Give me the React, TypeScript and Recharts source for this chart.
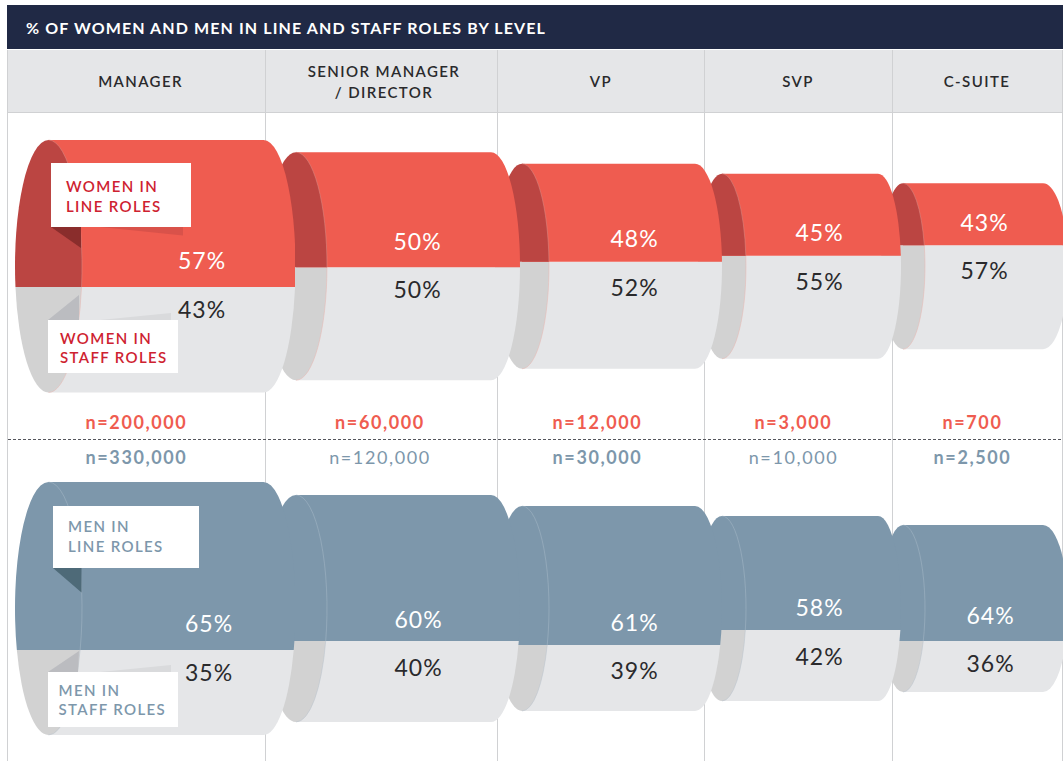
import { Bar, BarChart, LabelList, XAxis, YAxis } from "recharts";

const levels = ["Manager", "Senior Manager / Director", "VP", "SVP", "C-Suite"];

// percentages printed on the cylinders
const womenLinePct = [57, 50, 48, 45, 43];
const womenStaffPct = [43, 50, 52, 55, 57];
const menLinePct = [65, 60, 61, 58, 64];
const menStaffPct = [35, 40, 39, 42, 36];

// drawn height of each part (not strictly proportional to the %)
const womenLineSize = [147, 115, 98, 82, 62];
const womenStaffSize = [105.5, 113, 107, 103, 104];
const menLineSize = [168, 146, 139, 114, 116];
const menStaffSize = [85, 81, 66, 71, 51];

const womenN = ["n=200,000", "n=60,000", "n=12,000", "n=3,000", "n=700"];
const menN = ["n=330,000", "n=120,000", "n=30,000", "n=10,000", "n=2,500"];
const menNBold = [true, false, true, false, true];

// column layout
const gridX = [7.5, 265.5, 497.5, 704.5, 892.5, 1062.5];
const headerX = [140.5, 384, 601, 798, 977];
const nX = [136.5, 380, 597.5, 793.5, 972.5];
const bodyLeft = [48, 296, 522, 722, 903];
const bodyRight = [263, 491, 695, 878, 1043];
const rxLeft = [33.5, 31, 27, 24, 22];
const rxRight = [32, 29, 27, 23, 25];
const womenPctX = [201.5, 417.5, 634.5, 819.5, 984.5];
const menPctX = [208.5, 418.5, 634.5, 819.5, 990.5];
const womenLineDy = [-27, -26, -24, -24, -23];
const womenStaffDy = [22, 22, 25, 25, 25];
const menLineDy = [-27, -22, -23, -23, -26];
const menStaffDy = [22, 26, 25, 26, 22];

const FONT = "Lato, 'Open Sans', sans-serif";
const CHART_H = 270;
const RED = "#EF5C50";
const RED_SIDE = "#BB4542";
const BLUE = "#7D97AB";
const GREY = "#E5E6E8";
const GREY_SIDE = "#D2D2D2";
const LINE = "#D0D1D3";
const INK = "#2A2A2C";
const CALLOUT_RED = "#CE2230";

function CylinderPart(props: any) {
  const { x, y, width, height, payload, part, fill, side, edge, rxL, rxR } = props;
  const isLine = part === "line";
  const k = height / (isLine ? payload.line : payload.staff);
  const ry = (k * (payload.line + payload.staff)) / 2;
  const cy = isLine ? y + ry : y + height - ry;
  const outer = isLine ? y : y + height;
  const inner = isLine ? y + height : y;
  const off = (r: number) => r * Math.sqrt(Math.max(0, 1 - ((inner - cy) / ry) ** 2));
  const right = x + width;
  const sBody = isLine ? 1 : 0;
  const sSide = isLine ? 0 : 1;
  const dL = off(rxL);
  return (
    <g>
      <path
        d={`M${x},${outer} L${right},${outer} A${rxR},${ry} 0 0 ${sBody} ${right + off(rxR)},${inner} L${x},${inner} Z`}
        fill={fill}
      />
      <path
        d={`M${x},${outer} A${rxL},${ry} 0 0 ${sSide} ${x - dL},${inner} L${x + dL},${inner} A${rxL},${ry} 0 0 ${sSide} ${x},${outer} Z`}
        fill={side}
      />
      <path
        d={`M${x + dL},${inner} A${rxL},${ry} 0 0 ${sSide} ${x},${outer}`}
        fill="none"
        stroke={edge}
        strokeWidth={0.5}
      />
    </g>
  );
}

function pctLabel(anchorX: number, dy: number, color: string, part: string) {
  return (p: any) => {
    const edge = part === "line" ? p.y + p.height : p.y;
    return (
      <text
        x={anchorX}
        y={edge + dy}
        textAnchor="middle"
        dominantBaseline="central"
        fontFamily={FONT}
        fontSize={23}
        fontWeight={400}
        letterSpacing={1}
        fill={color}
      >
        {p.value}%
      </text>
    );
  };
}

// one chart per column because the column widths differ; left cylinders overlap right ones
function CylinderColumn({ i, top, center, lineSize, staffSize, linePct, staffPct, pctX, lineDy, staffDy, color, side, edge, staffEdge }: any) {
  const data = [
    {
      level: levels[i],
      gap: center - (lineSize[i] + staffSize[i]) / 2,
      staff: staffSize[i],
      line: lineSize[i],
      linePct: linePct[i],
      staffPct: staffPct[i],
    },
  ];
  const rxL = rxLeft[i];
  const rxR = rxRight[i];
  const w = bodyRight[i] - bodyLeft[i] + rxL + rxR;
  return (
    <div style={{ position: "absolute", left: bodyLeft[i] - rxL, top }}>
      <BarChart
        width={w}
        height={CHART_H}
        data={data}
        margin={{ top: 0, right: rxR, bottom: 0, left: rxL }}
        barCategoryGap={0}
      >
        <XAxis dataKey="level" hide />
        <YAxis hide domain={[0, CHART_H]} />
        <Bar dataKey="gap" stackId="c" fill="none" isAnimationActive={false} />
        <Bar
          dataKey="staff"
          stackId="c"
          isAnimationActive={false}
          shape={(p: any) => (
            <CylinderPart {...p} part="staff" fill={GREY} side={GREY_SIDE} edge={staffEdge} rxL={rxL} rxR={rxR} />
          )}
        >
          <LabelList
            dataKey="staffPct"
            content={pctLabel(pctX[i] - (bodyLeft[i] - rxL), staffDy[i], INK, "staff")}
          />
        </Bar>
        <Bar
          dataKey="line"
          stackId="c"
          isAnimationActive={false}
          shape={(p: any) => (
            <CylinderPart {...p} part="line" fill={color} side={side} edge={edge} rxL={rxL} rxR={rxR} />
          )}
        >
          <LabelList
            dataKey="linePct"
            content={pctLabel(pctX[i] - (bodyLeft[i] - rxL), lineDy[i], "#FFFFFF", "line")}
          />
        </Bar>
      </BarChart>
    </div>
  );
}

function Callout({ x, y, w, h, tx, lines, color, by }: any) {
  return (
    <g>
      <rect x={x} y={y} width={w} height={h} fill="#FFFFFF" />
      {lines.map((t: string, k: number) => (
        <text key={t} x={tx} y={by[k]} fontFamily={FONT} fontSize={15} fontWeight={600} letterSpacing={1.35} fill={color}>
          {t}
        </text>
      ))}
    </g>
  );
}

function HeaderText({ x, y, children }: any) {
  return (
    <text x={x} y={y} textAnchor="middle" fontFamily={FONT} fontSize={15} fontWeight={600} letterSpacing={1.4} fill={INK}>
      {children}
    </text>
  );
}

const order = [4, 3, 2, 1, 0];

export default function App() {
  return (
    <div style={{ position: "absolute", left: 0, top: 0, width: 1063, height: 761, overflow: "hidden", background: "#FFFFFF" }}>
      <svg width={1063} height={761} style={{ position: "absolute", left: 0, top: 0 }}>
        <rect x={7} y={5} width={1056} height={44} fill="#202945" />
        <text x={26} y={34} fontFamily={FONT} fontSize={16} fontWeight={700} letterSpacing={1.11} fill="#FFFFFF">
          % OF WOMEN AND MEN IN LINE AND STAFF ROLES BY LEVEL
        </text>
        <rect x={7} y={50} width={1056} height={62} fill={GREY} />
        <line x1={7} x2={1063} y1={112.5} y2={112.5} stroke={LINE} />
        {gridX.map((x) => (
          <line key={x} x1={x} x2={x} y1={50} y2={761} stroke={LINE} />
        ))}
        <HeaderText x={headerX[0]} y={87}>MANAGER</HeaderText>
        <HeaderText x={headerX[1]} y={77}>SENIOR MANAGER</HeaderText>
        <HeaderText x={headerX[1]} y={98}>/ DIRECTOR</HeaderText>
        <HeaderText x={headerX[2]} y={87}>VP</HeaderText>
        <HeaderText x={headerX[3]} y={87}>SVP</HeaderText>
        <HeaderText x={headerX[4]} y={87}>C-SUITE</HeaderText>
        <line x1={8} x2={1063} y1={439.5} y2={439.5} stroke="#55565C" strokeDasharray="3 2" />
        {womenN.map((t, i) => (
          <text key={t} x={nX[i]} y={428.5} textAnchor="middle" fontFamily={FONT} fontSize={18} fontWeight={700} letterSpacing={1.6} fill={RED}>
            {t}
          </text>
        ))}
        {menN.map((t, i) => (
          <text
            key={t}
            x={nX[i]}
            y={463.5}
            textAnchor="middle"
            fontFamily={FONT}
            fontSize={18}
            fontWeight={menNBold[i] ? 700 : 400}
            letterSpacing={1.6}
            fill={BLUE}
          >
            {t}
          </text>
        ))}
      </svg>

      {order.map((i) => (
        <CylinderColumn
          key={`w${i}`}
          i={i}
          top={130}
          center={133.75}
          lineSize={womenLineSize}
          staffSize={womenStaffSize}
          linePct={womenLinePct}
          staffPct={womenStaffPct}
          pctX={womenPctX}
          lineDy={womenLineDy}
          staffDy={womenStaffDy}
          color={RED}
          side={RED_SIDE}
          edge="#D98F88"
          staffEdge="#E9B4AE"
        />
      ))}
      {order.map((i) => (
        <CylinderColumn
          key={`m${i}`}
          i={i}
          top={470}
          center={131.5}
          lineSize={menLineSize}
          staffSize={menStaffSize}
          linePct={menLinePct}
          staffPct={menStaffPct}
          pctX={menPctX}
          lineDy={menLineDy}
          staffDy={menStaffDy}
          color={BLUE}
          side={BLUE}
          edge="#A9BBC9"
          staffEdge="#B9C3CC"
        />
      ))}

      <svg width={1063} height={761} style={{ position: "absolute", left: 0, top: 0 }}>
        <polygon points="51,227 81,248 81,227" fill="#8A2D2C" />
        <polygon points="100,227 183,235.5 183,227" fill="#D9524A" />
        <Callout x={51} y={163} w={140} h={64} tx={66} lines={["WOMEN IN", "LINE ROLES"]} by={[192, 212]} color={CALLOUT_RED} />

        <polygon points="48,320 79,295 79,320" fill="#BBBCC0" />
        <polygon points="100,320 171,313 171,320" fill="#D9DADC" />
        <Callout x={48} y={320} w={130} h={53} tx={60} lines={["WOMEN IN", "STAFF ROLES"]} by={[343.5, 363]} color={CALLOUT_RED} />

        <polygon points="53,568 81.5,592.5 81.5,568" fill="#4E6A78" />
        <Callout x={53} y={506} w={146} h={62} tx={68} lines={["MEN IN", "LINE ROLES"]} by={[531.5, 551.5]} color={BLUE} />

        <polygon points="48,672 79,651 78,672" fill="#BBBCC0" />
        <polygon points="100,672 171,665 171,672" fill="#D9DADC" />
        <Callout x={48} y={672} w={130} h={55} tx={58.5} lines={["MEN IN", "STAFF ROLES"]} by={[695.5, 714.5]} color={BLUE} />
      </svg>
    </div>
  );
}
